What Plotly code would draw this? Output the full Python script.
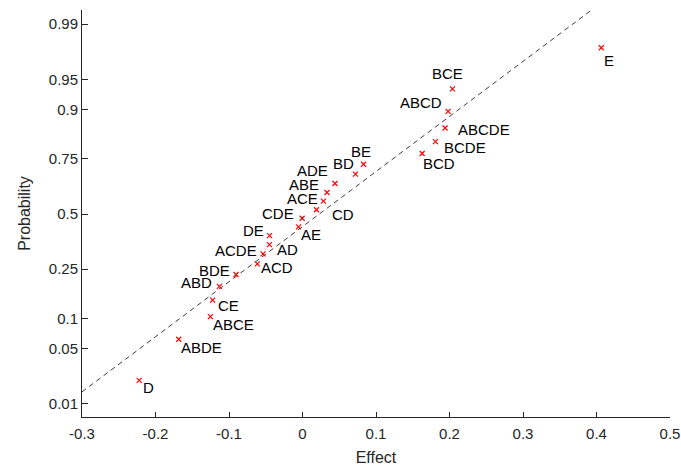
import plotly.graph_objects as go
from statistics import NormalDist

# ---- data ----
labels = ["D", "ABDE", "ABCE", "CE", "ABD", "BDE", "ACD", "ACDE", "AD", "DE",
          "AE", "CDE", "CD", "ACE", "ABE", "ADE", "BD", "BE", "BCD", "BCDE",
          "ABCDE", "ABCD", "BCE", "E"]
effects = [-0.2222, -0.1684, -0.1253, -0.1223, -0.1130, -0.0904, -0.0614, -0.0537,
           -0.0450, -0.0448, -0.0054, -0.0005, 0.0190, 0.0285, 0.0333, 0.0442,
           0.0721, 0.0830, 0.1628, 0.1809, 0.1940, 0.1981, 0.2040, 0.4065]
probability = [0.0208, 0.0625, 0.1042, 0.1458, 0.1875, 0.2292, 0.2708, 0.3125,
               0.3542, 0.3958, 0.4375, 0.4792, 0.5208, 0.5625, 0.6042, 0.6458,
               0.6875, 0.7292, 0.7708, 0.8125, 0.8542, 0.8958, 0.9375, 0.9792]

y_tick_probs = [0.01, 0.05, 0.1, 0.25, 0.5, 0.75, 0.9, 0.95, 0.99]
y_tick_labels = ["0.01", "0.05", "0.1", "0.25", "0.5", "0.75", "0.9", "0.95", "0.99"]
x_ticks = [-0.3, -0.2, -0.1, 0, 0.1, 0.2, 0.3, 0.4, 0.5]
x_tick_labels = ["-0.3", "-0.2", "-0.1", "0", "0.1", "0.2", "0.3", "0.4", "0.5"]

ref_effect = [-0.3, 0.3915]
ref_prob = [0.01467, 0.99358]

# ---- label placement offsets in pixels (style, not data) ----
label_dx = [9.6, 23, 23.3, 15.5, -23.2, -21.5, 19.7, -26.9, 18, -16.2,
            12.5, -24.2, 26.5, -21.3, -22.5, -22.2, -11.6, -2.3, 16.8, 29.4,
            39.2, -26.7, -5.3, 7.9]
label_dy = [7.3, 8.3, 7.5, 5.3, -3.7, -4, 3.7, -3, 5.3, -5,
            7.7, -4.7, 4.3, -2.6, -7.7, -12.7, -10.3, -12.6, 10.3, 6,
            2, -8.8, -15.3, 12.5]

nd = NormalDist()
z = [nd.inv_cdf(p) for p in probability]
ref_z = [nd.inv_cdf(p) for p in ref_prob]
y_tick_vals = [nd.inv_cdf(p) for p in y_tick_probs]

FONT = "Liberation Sans, Arial, sans-serif"
AX = "#262626"

fig = go.Figure()
fig.add_trace(go.Scatter(
    x=ref_effect, y=ref_z, mode="lines",
    line=dict(color="#3a3a3a", width=1, dash="5px,4px"),
    hoverinfo="skip", showlegend=False))
fig.add_trace(go.Scatter(
    x=effects, y=z, mode="markers",
    marker=dict(symbol="x-thin", size=5, color="red",
                line=dict(color="red", width=1.2)),
    text=labels, showlegend=False))

for lab, ex, zz, dx, dy in zip(labels, effects, z, label_dx, label_dy):
    fig.add_annotation(x=ex, y=zz, text=lab, showarrow=False,
                       xanchor="center", yanchor="middle",
                       xshift=dx, yshift=-dy,
                       font=dict(family=FONT, size=15, color="black"))

fig.update_layout(
    template="none",
    width=681, height=466,
    margin=dict(l=82, r=11, t=10, b=48.5, pad=0),
    paper_bgcolor="white", plot_bgcolor="white",
    font=dict(family=FONT, size=15, color=AX),
)
fig.update_xaxes(
    automargin=False,
    range=[-0.3, 0.5], tickvals=x_ticks, ticktext=x_tick_labels,
    showline=True, linecolor=AX, linewidth=1, mirror=False,
    ticks="inside", ticklen=5, tickcolor=AX, tickwidth=1,
    ticklabelstandoff=3,
    showgrid=False, zeroline=False,
    tickfont=dict(family=FONT, size=15, color=AX),
    title=dict(text="Effect", font=dict(family=FONT, size=16, color=AX), standoff=12),
)
fig.update_yaxes(
    automargin=False,
    range=[-2.487, 2.50], tickvals=y_tick_vals, ticktext=y_tick_labels,
    showline=True, linecolor=AX, linewidth=1, mirror=False,
    ticks="inside", ticklen=6, tickcolor=AX, tickwidth=1,
    showgrid=False, zeroline=False,
    tickfont=dict(family=FONT, size=15, color=AX),
    title=dict(text="Probability", font=dict(family=FONT, size=16, color=AX), standoff=14),
)

fig.write_html("out.html")
